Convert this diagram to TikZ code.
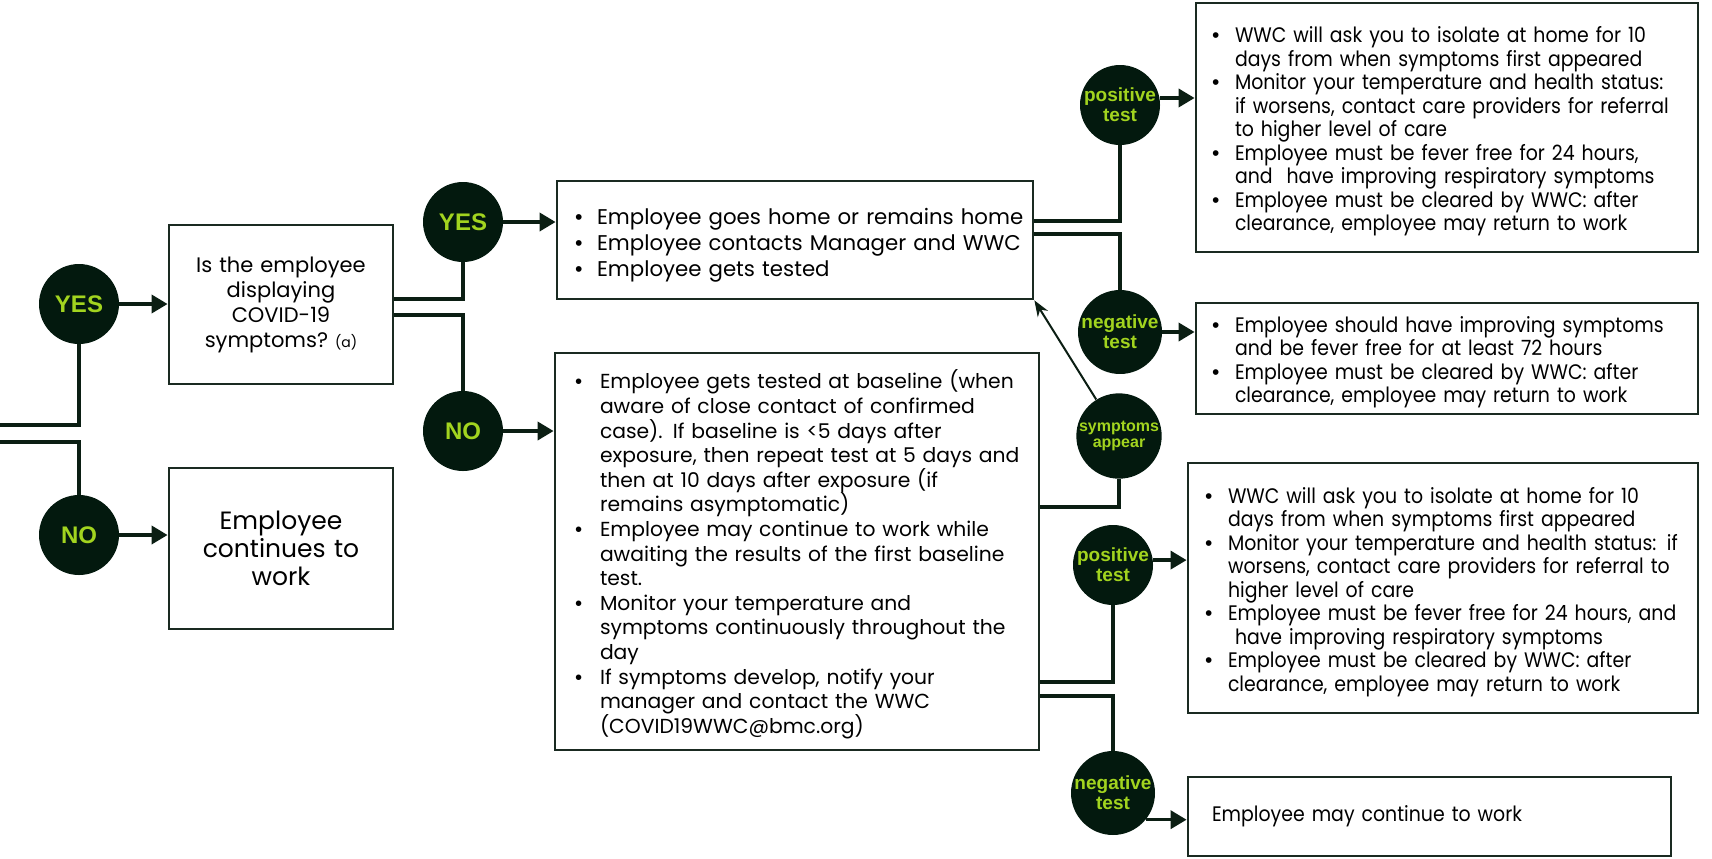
\documentclass[tikz,border=0pt]{standalone}
\usepackage{fontspec}
\usepackage{enumitem}
\setmainfont{Poppins}
\newfontfamily\narrowfont[FakeStretch=0.9]{Poppins}
\newfontfamily\labelfont{Liberation Sans}
\usetikzlibrary{arrows.meta}
\definecolor{circlefill}{HTML}{03190E}
\definecolor{circletext}{HTML}{A2D41F}
\definecolor{flowline}{HTML}{0B1E13}
\definecolor{boxline}{HTML}{1A2A21}
\newenvironment{bullets}[2][8.5pt]{\lineskiplimit=-10pt\begin{itemize}[nosep,label={\labelfont\textbullet},labelindent=#1,leftmargin=#2,labelwidth=4pt,labelsep=*,align=left]}{\end{itemize}}

\begin{document}
\begin{tikzpicture}[x=0.5pt,y=-0.5pt,
    answer/.style={circle,fill=circlefill,text=circletext,minimum size=40pt,inner sep=0pt,align=center,
      font=\labelfont\bfseries\fontsize{12}{12}\selectfont},
    result/.style={answer,font=\labelfont\bfseries\fontsize{9.5}{10}\selectfont},
    box/.style={draw=boxline,line width=1.4pt,rectangle,inner xsep=0pt,inner ysep=0pt,align=left},
    flow/.style={draw=flowline,line width=1.8pt},
    arrowline/.style={flow,-{Triangle[length=8pt,width=9pt]}}]
  \useasboundingbox (0,0) rectangle (1712,858);
  % first question
  \node[box,minimum width=112pt,minimum height=79.5pt,text width=112pt,align=center,
    font=\fontsize{10.5}{12.5}\selectfont] (question) at (281,304.5)
    {Is the employee\\ displaying\\ COVID-19\\ symptoms?{\fontsize{7}{7}\selectfont\ (a)}};
  \node[box,minimum width=112pt,minimum height=80.5pt,text width=112pt,align=center,
    font=\fontsize{12.5}{14}\selectfont] (cont) at (281,548.5)
    {Employee\\ continues to\\ work};
  \node[answer] (yesA) at (79,304) {YES};
  \node[answer] (noA) at (79,535) {NO};
  \node[answer] (yesB) at (463,222) {YES};
  \node[answer] (noB) at (463,431) {NO};
  % middle column
  \node[box,minimum width=238pt,minimum height=59pt,text width=238pt,
    font=\fontsize{10.65}{13}\selectfont] (topbox) at (795,240)
    {\begin{bullets}[9pt]{20pt}
      \item Employee goes home or remains home
      \item Employee contacts Manager and WWC
      \item Employee gets tested
    \end{bullets}\par\vspace{3pt}};
  \node[box,minimum width=242pt,minimum height=198.5pt,text width=242pt,
    font=\fontsize{10.15}{12.3}\selectfont] (midbox) at (797,551.5)
    {\begin{bullets}[10pt]{22.5pt}
      \item Employee gets tested at baseline (when\\ aware of close contact of confirmed\\ case). If baseline is <5 days after\\ exposure, then repeat test at 5 days and\\ then at 10 days after exposure (if\\ remains asymptomatic)
      \item Employee may continue to work while\\ awaiting the results of the first baseline\\ test.
      \item Monitor your temperature and\\ symptoms continuously throughout the\\ day
      \item If symptoms develop, notify your\\ manager and contact the WWC\\ (COVID19WWC@bmc.org)
    \end{bullets}};
  % test results
  \node[result] (posA) at (1120,105) {positive\\test};
  \node[result] (negA) at (1120,332) {negative\\test};
  \node[result,font=\labelfont\bfseries\fontsize{8}{8}\selectfont] (symp) at (1119,436) {symptoms\\appear};
  \node[result] (posB) at (1113,565) {positive\\test};
  \node[result] (negB) at (1113,793) {negative\\test};
  \node[box,minimum width=251pt,minimum height=124.5pt,text width=251pt,
    font=\narrowfont\fontsize{10.5}{11.75}\selectfont] (rboxA) at (1447,127.5)
    {\begin{bullets}[8pt]{19.5pt}
      \item WWC will ask you to isolate at home for 10\\ days from when symptoms first appeared
      \item Monitor your temperature and health status:\\ if worsens, contact care providers for referral\\ to higher level of care
      \item Employee must be fever free for 24 hours,\\ and\ \ have improving respiratory symptoms
      \item Employee must be cleared by WWC: after\\ clearance, employee may return to work
    \end{bullets}};
  \node[box,minimum width=251pt,minimum height=55.5pt,text width=251pt,
    font=\narrowfont\fontsize{10.5}{11.75}\selectfont] (rboxB) at (1447,358.5)
    {\begin{bullets}[8pt]{19.5pt}
      \item Employee should have improving symptoms\\ and be fever free for at least 72 hours
      \item Employee must be cleared by WWC: after\\ clearance, employee may return to work
    \end{bullets}};
  \node[box,minimum width=255pt,minimum height=125pt,text width=255pt,
    font=\narrowfont\fontsize{10.5}{11.75}\selectfont] (rboxC) at (1443,588)
    {\begin{bullets}[8.5pt]{20pt}
      \item WWC will ask you to isolate at home for 10\\ days from when symptoms first appeared
      \item Monitor your temperature and health status: if\\ worsens, contact care providers for referral to\\ higher level of care
      \item Employee must be fever free for 24 hours, and\\ \ have improving respiratory symptoms
      \item Employee must be cleared by WWC: after\\ clearance, employee may return to work
    \end{bullets}};
  \node[box,minimum width=241.5pt,minimum height=39.5pt,text width=217.5pt,inner xsep=12pt,
    font=\narrowfont\fontsize{10.5}{11.75}\selectfont] (rboxD) at (1429.5,816.5)
    {Employee may continue to work};
  % connectors
  \coordinate (edgeA) at (0,425);
  \coordinate (edgeB) at (0,442);
  \draw[flow] (yesA.south) -- (yesA.south |- edgeA) -- (edgeA);
  \draw[flow] (noA.north) -- (noA.north |- edgeB) -- (edgeB);
  \draw[arrowline] (yesA.east) -- (yesA.east -| question.west);
  \draw[arrowline] (noA.east) -- (noA.east -| cont.west);
  \draw[flow] (question.east |- 0,299) -- (yesB |- 0,299) -- (yesB.south);
  \draw[flow] (question.east |- 0,315) -- (noB |- 0,315) -- (noB.north);
  \draw[arrowline] (yesB.east) -- (yesB.east -| topbox.west);
  \draw[arrowline] (noB.east) -- (noB.east -| midbox.west);
  \draw[flow] (topbox.east |- 0,221) -- (posA |- 0,221) -- (posA.south);
  \draw[flow] (topbox.east |- 0,234) -- (negA |- 0,234) -- (negA.north);
  \draw[arrowline] (posA.10) -- (posA.10 -| rboxA.west);
  \draw[arrowline] (negA.east) -- (negA.east -| rboxB.west);
  \draw[draw=flowline,line width=1pt,-{Stealth[length=8pt,width=6pt]}] (symp) -- (topbox.south east);
  \draw[flow] (symp.south) -- (symp.south |- 0,507) -- (midbox.east |- 0,507);
  \draw[flow] (midbox.east |- 0,682) -- (posB |- 0,682) -- (posB.south);
  \draw[flow] (midbox.east |- 0,696) -- (negB |- 0,696) -- (negB.north);
  \draw[arrowline] (posB.7) -- (posB.7 -| rboxC.west);
  \draw[arrowline] (negB.-39) -- (negB.-39 -| rboxD.west);
\end{tikzpicture}
\end{document}
